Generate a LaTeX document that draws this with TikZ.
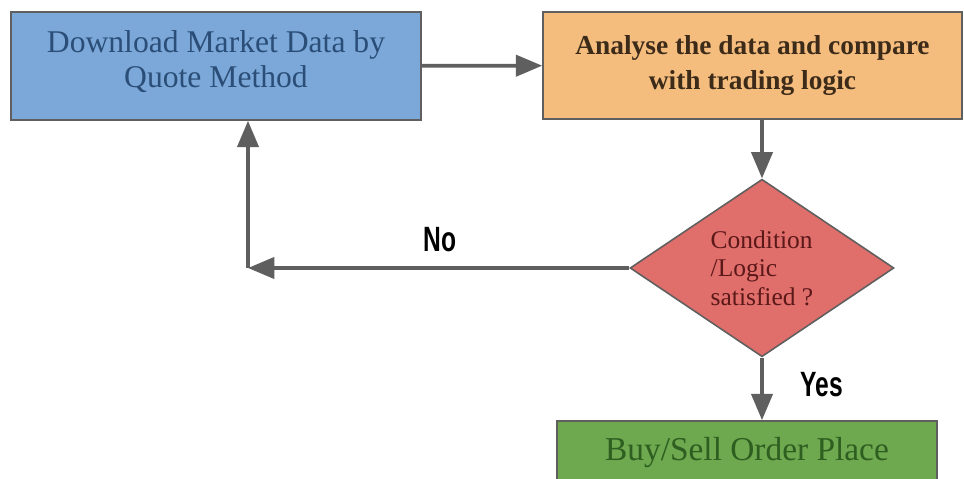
\documentclass[tikz,border=0pt]{standalone}
\usepackage{fontspec}
\setmainfont{Liberation Serif}
\newfontfamily\labelfont{Liberation Sans}
\usepackage{xcolor}
\usetikzlibrary{arrows.meta}
\usetikzlibrary{shapes.geometric}

\definecolor{boxblue}{HTML}{7BA8D8}
\definecolor{textblue}{HTML}{2B4E78}
\definecolor{boxorange}{HTML}{F5BD7D}
\definecolor{textbrown}{HTML}{3D2B1A}
\definecolor{boxred}{HTML}{E06E6B}
\definecolor{textred}{HTML}{5A1818}
\definecolor{boxgreen}{HTML}{6EA84F}
\definecolor{textgreen}{HTML}{2E5E20}
\definecolor{linegray}{HTML}{5F5F5F}

\begin{document}
\begin{tikzpicture}[x=0.02cm,y=-0.02cm,
        flowbox/.style={draw=linegray,line width=0.9pt,inner sep=0pt,align=center,
            font=\fontsize{18}{20}\selectfont},
        flowarrow/.style={draw=linegray,line width=2.2pt,
            -{Triangle[length=15pt,width=12pt]}},
        answer/.style={font=\labelfont\bfseries\fontsize{20}{20}\selectfont}]
        \clip (0,0) rectangle (964,479);
        \fill[white] (0,0) rectangle (964,479);

        \node[flowbox,fill=boxblue,text=textblue,minimum width=8.2cm,minimum height=2.16cm]
            (download) at (216,66) {Download Market Data by\\Quote Method\\[-12pt]};
        \node[flowbox,fill=boxorange,text=textbrown,minimum width=8.38cm,minimum height=2.14cm,
            font=\bfseries\fontsize{15.6}{20}\selectfont]
            (analyse) at (752.5,65.5) {Analyse the data and compare\\with trading logic};
        \node[diamond,draw=linegray,line width=0.9pt,fill=boxred,text=textred,inner sep=0pt,
            minimum width=5.28cm,minimum height=3.34cm,align=left,
            font=\fontsize{14.5}{16.2}\selectfont]
            (check) at (762,268) {Condition\\/Logic\\satisfied ?};
        \node[flowbox,fill=boxgreen,text=textgreen,minimum width=7.6cm,minimum height=1.28cm,
            font=\fontsize{19}{20}\selectfont]
            (order) at (747,453) {Buy/Sell Order Place};

        \coordinate (turn) at (248,268);

        \draw[flowarrow] (download) -- (analyse);
        \draw[flowarrow] (check |- analyse.south) -- (check);
        \draw[flowarrow] (check) -- (check |- order.north);
        \draw[flowarrow] (check.west) -- (turn);
        \draw[flowarrow] (turn) -- (turn |- download.south);

        \node[answer] (no) at (440,240) {\scalebox{0.7}[1]{No}};
        \node[answer] (yes) at (822,385) {\scalebox{0.7}[1]{Yes}};
    \end{tikzpicture}
\end{document}
